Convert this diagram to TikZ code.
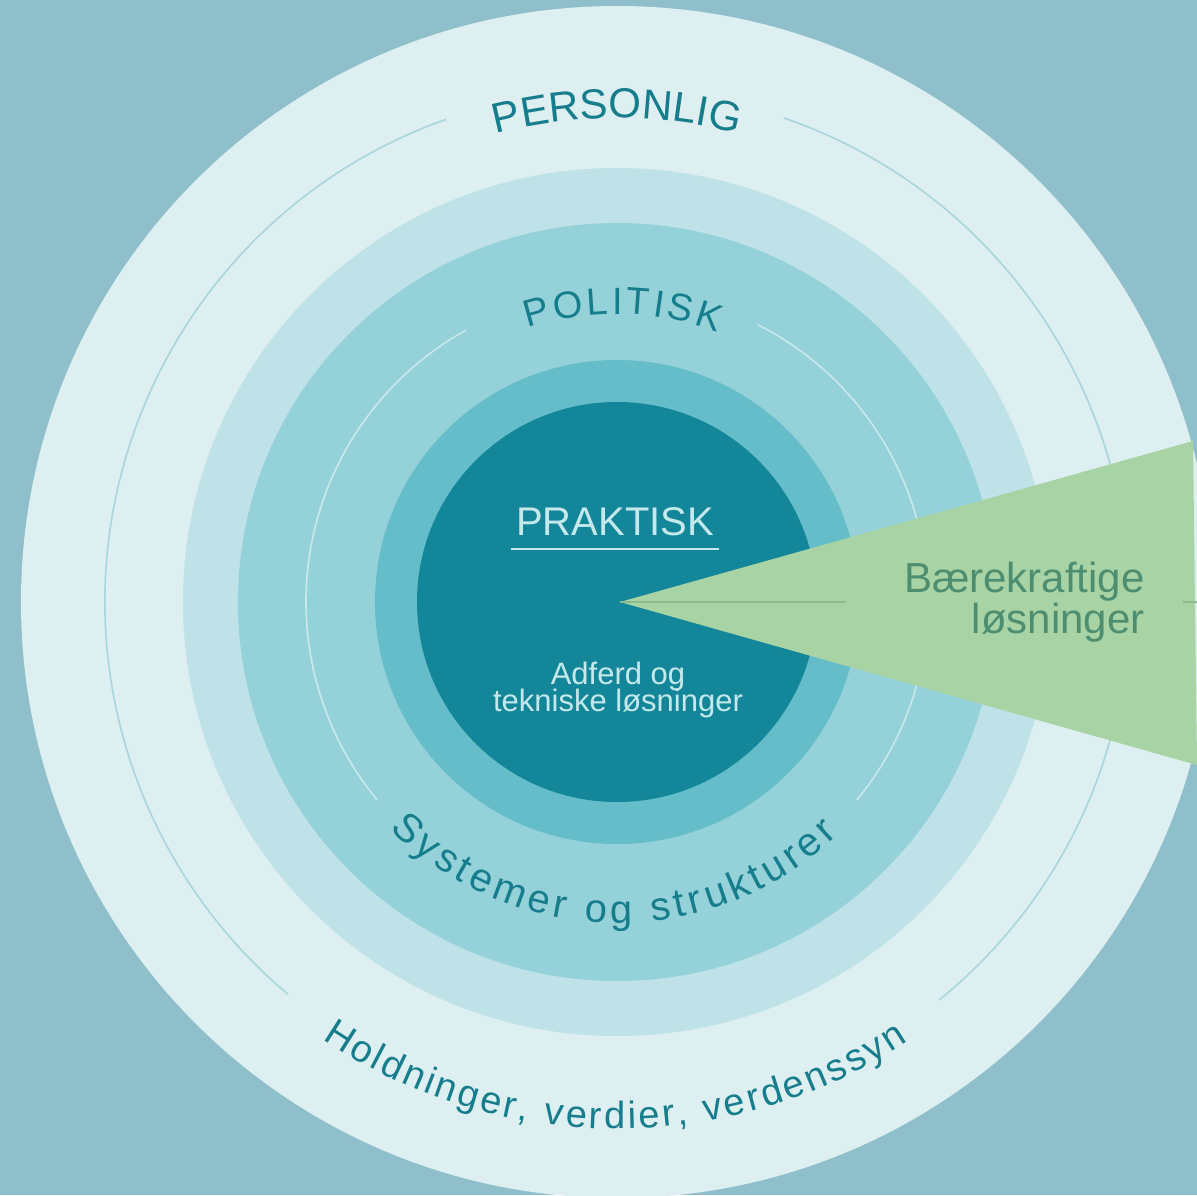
\documentclass[tikz,border=0pt]{standalone}
\usepackage{fontspec}
\setmainfont{Liberation Sans}
\usetikzlibrary{decorations.text}
\definecolor{bgblue}{RGB}{143,191,202}
\definecolor{ringa}{RGB}{221,239,240}
\definecolor{ringb}{RGB}{190,226,231}
\definecolor{ringc}{RGB}{149,209,216}
\definecolor{ringd}{RGB}{100,189,200}
\definecolor{core}{RGB}{19,135,153}
\definecolor{leaf}{RGB}{168,211,165}
\definecolor{leaftext}{RGB}{77,142,112}
\definecolor{leafline}{RGB}{141,186,140}
\definecolor{ringtext}{RGB}{22,125,141}
\definecolor{coretext}{RGB}{196,232,236}
\definecolor{linea}{RGB}{169,213,220}
\definecolor{linec}{RGB}{201,233,236}
\newcommand\ringlabel[5]{%
  \path[decorate,decoration={text along path,text align=fit to path,
      text color=ringtext,text={|\fontsize{#4}{#4}\selectfont|#5}}]
    (#1:#3) arc[start angle=#1,end angle=#2,radius=#3];%
}

\begin{document}
\begin{tikzpicture}[x=0.5pt,y=0.5pt,
    arcline/.style={line width=0.8pt},
    corelabel/.style={text=coretext,inner sep=0pt,
      font=\fontsize{15.5pt}{18pt}\selectfont},
    leaflabel/.style={text=leaftext,inner sep=0pt,
      font=\fontsize{21pt}{24pt}\selectfont}]
    % background, fixes the size
    \useasboundingbox (-617,-593) rectangle (580,602);
    \clip (-617,-593) rectangle (580,602);
    \fill[bgblue] (-617,-593) rectangle (580,602);

    % rings, outside in
    \fill[ringa] (0,0) circle[radius=596];
    \draw[arcline,linea]
      (109.5:512) arc[start angle=109.5,end angle=230,radius=512];
    \draw[arcline,linea]
      (71:512) arc[start angle=71,end angle=-51,radius=512];
    \fill[ringb] (0,0) circle[radius=434];
    \fill[ringc] (0,0) circle[radius=379];
    \draw[arcline,linec]
      (119:311) arc[start angle=119,end angle=219.5,radius=311];
    \draw[arcline,linec]
      (63:311) arc[start angle=63,end angle=-39.5,radius=311];
    \fill[ringd] (0,0) circle[radius=242];
    \fill[core] (0,0) circle[radius=200];

    % green wedge
    \coordinate (tip) at (3,0);
    \fill[leaf] (tip) -- (576,161) -- (580,-163) -- cycle;
    \draw[leafline,line width=0.8pt] (tip) -- (229,0);
    \draw[leafline,line width=0.8pt] (566,0) -- (580,0);

    % curved labels
    \ringlabel{104.5}{75.5}{484}{21pt}{PERSONLIG}
    \ringlabel{108}{69.5}{288}{19pt}{POLITISK}
    \ringlabel{225}{313.5}{321}{20pt}{Systemer og strukturer}
    \ringlabel{236}{303.5}{527}{19pt}{Holdninger, verdier, verdenssyn}

    % centre
    \node[corelabel,font=\fontsize{20pt}{24pt}\selectfont,
      inner sep=2.5pt,anchor=base] (praktisk) at (-2,67) {PRAKTISK};
    \draw[coretext,line width=1pt]
      ([yshift=-4pt]praktisk.south west) -- ([yshift=-4pt]praktisk.south east);
    \node[corelabel,anchor=base] (adferd) at (1,-82) {Adferd og};
    \node[corelabel,anchor=base] (teknisk) at (1,-109) {tekniske løsninger};

    \node[leaflabel,anchor=base east] (baere) at (528,10) {Bærekraftige};
    \node[leaflabel,anchor=base east] (losning) at (528,-31) {løsninger};
\end{tikzpicture}
\end{document}
